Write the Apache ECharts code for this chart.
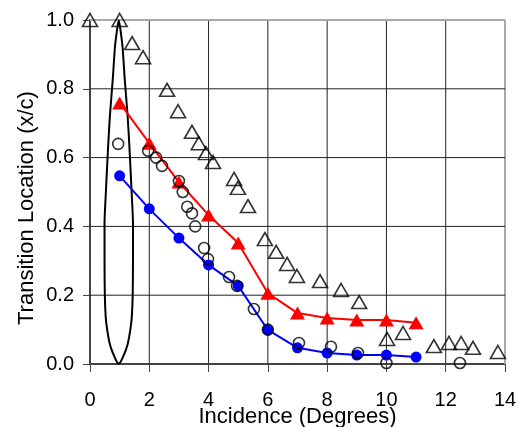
<!DOCTYPE html>
<html><head><meta charset="utf-8">
<script src="https://cdn.jsdelivr.net/npm/echarts@6/dist/echarts.min.js"></script>
<style>html,body{margin:0;padding:0;background:#fff}#c{width:520px;height:427px}</style>
</head><body><div id="c"></div>
<script>
const xTicks = [0, 2, 4, 6, 8, 10, 12, 14];
const yTicks = [0.0, 0.2, 0.4, 0.6, 0.8, 1.0];

// Closed outline shape around 1 degree
const shapeX = [0.97, 1.03, 1.11, 1.21, 1.28, 1.36, 1.41, 1.44, 1.45, 1.45, 1.41, 1.33, 1.27, 1.17, 1.10, 1.03, 0.97,
                0.91, 0.84, 0.77, 0.67, 0.61, 0.53, 0.49, 0.49, 0.50, 0.53, 0.58, 0.66, 0.73, 0.83, 0.91, 0.97];
const shapeY = [0.0, 0.006, 0.02, 0.041, 0.061, 0.099, 0.137, 0.2, 0.3, 0.41, 0.49, 0.63, 0.72, 0.83, 0.92, 0.97, 1.0,
                0.97, 0.92, 0.83, 0.72, 0.63, 0.49, 0.41, 0.3, 0.2, 0.137, 0.099, 0.061, 0.041, 0.02, 0.006, 0.0];

// Red filled triangles (line)
const redX = [1, 2, 3, 4, 5, 6, 7, 8, 9, 10, 11];
const redY = [0.759, 0.642, 0.529, 0.433, 0.352, 0.206, 0.148, 0.134, 0.128, 0.128, 0.12];

// Blue filled circles (line)
const blueX = [1, 2, 3, 4, 5, 6, 7, 8, 9, 10, 11];
const blueY = [0.547, 0.451, 0.366, 0.288, 0.227, 0.099, 0.047, 0.032, 0.026, 0.026, 0.02];

// Open circles
const circX = [0.95, 1.96, 2.23, 2.43, 3.0, 3.13, 3.28, 3.44, 3.55, 3.85, 3.98, 4.69, 4.96, 5.53, 6.0, 7.05, 8.13, 9.04, 10.0, 12.48];
const circY = [0.64, 0.62, 0.60, 0.576, 0.532, 0.50, 0.457, 0.438, 0.40, 0.337, 0.305, 0.253, 0.227, 0.16, 0.10, 0.061, 0.05, 0.032, 0.003, 0.003];

// Open triangles
const triX = [0, 1, 1.42, 1.79, 2.6, 2.97, 3.44, 3.67, 3.91, 4.15, 4.86, 4.99, 5.33, 5.9, 6.28, 6.65, 6.98, 7.76, 8.47, 9.08, 10.02, 10.56, 11.6, 12.11, 12.52, 12.92, 13.76];
const triY = [1.0, 1.0, 0.933, 0.892, 0.797, 0.735, 0.675, 0.642, 0.613, 0.587, 0.538, 0.512, 0.459, 0.363, 0.326, 0.291, 0.256, 0.241, 0.215, 0.18, 0.073, 0.09, 0.052, 0.061, 0.061, 0.047, 0.035];

const zip = (a, b) => a.map((v, i) => [v, b[i]]);
const FONT = '"Liberation Sans", Arial, sans-serif';

const xMin = xTicks[0], xMax = xTicks[xTicks.length - 1];
const yMin = yTicks[0], yMax = yTicks[yTicks.length - 1];

// grid lines drawn as series at the tick values, through the library's scales
const gridSeries = [];
xTicks.slice(1).forEach(v => gridSeries.push({
  type: 'line', data: [[v, yMin], [v, yMax]], symbol: 'none', silent: true, z: 1, clip: false,
  lineStyle: v === xMax ? { color: '#a8a8a8', width: 2 } : { color: '#222', width: 1 }
}));
yTicks.slice(1).forEach(v => gridSeries.push({
  type: 'line', data: [[xMin, v], [xMax, v]], symbol: 'none', silent: true, z: 1, clip: false,
  lineStyle: v === yMax ? { color: '#a8a8a8', width: 2 } : { color: '#222', width: 1 }
}));

const chart = echarts.init(document.getElementById('c'));
chart.setOption({
  animation: false,
  grid: { left: 90, right: 15, top: 20, bottom: 63, outerBoundsMode: 'none', containLabel: false },
  graphic: [{
    type: 'text',
    style: { text: 'Transition Location (x/c)', font: '22px "Liberation Sans", Arial, sans-serif', fill: '#000' },
    rotation: Math.PI / 2,
    x: 16, y: 325, z: 10
  }],
  xAxis: {
    type: 'value', min: xMin, max: xMax, interval: 2,
    name: 'Incidence (Degrees)', nameLocation: 'middle', nameGap: 42, nameMoveOverlap: false,
    nameTextStyle: { fontFamily: FONT, fontSize: 22, color: '#000' },
    axisLine: { show: true, onZero: false, lineStyle: { color: '#444', width: 2 } },
    axisTick: { show: true, length: 8, lineStyle: { color: '#444', width: 1 } },
    axisLabel: { fontFamily: FONT, fontSize: 20, color: '#000', margin: 26,
      formatter: v => xTicks.includes(v) ? String(v) : '' },
    splitLine: { show: false }
  },
  yAxis: {
    type: 'value', min: yMin, max: yMax, interval: 0.2,
    axisLine: { show: true, onZero: false, lineStyle: { color: '#444', width: 2 } },
    axisTick: { show: true, length: 7, lineStyle: { color: '#444', width: 1 } },
    axisLabel: { fontFamily: FONT, fontSize: 20, color: '#000', margin: 16,
      formatter: v => yTicks.some(t => Math.abs(t - v) < 1e-9) ? v.toFixed(1) : '' },
    splitLine: { show: false }
  },
  series: gridSeries.concat([
    { type: 'line', data: zip(shapeX, shapeY), symbol: 'none', smooth: 0.2,
      lineStyle: { color: '#000', width: 2 }, z: 2 },
    { type: 'line', data: zip(redX, redY), symbol: 'triangle', symbolSize: [15, 13],
      itemStyle: { color: '#ff0000' }, lineStyle: { color: '#ff0000', width: 2 }, z: 3 },
    { type: 'line', data: zip(blueX, blueY), symbol: 'circle', symbolSize: 11,
      itemStyle: { color: '#0000ff' }, lineStyle: { color: '#0000ff', width: 2 }, z: 3 },
    { type: 'scatter', data: zip(triX, triY), symbol: 'triangle', symbolSize: [15, 13],
      itemStyle: { color: 'rgba(0,0,0,0)', borderColor: '#000', borderWidth: 1.6 }, z: 4 },
    { type: 'scatter', data: zip(circX, circY), symbol: 'circle', symbolSize: 11,
      itemStyle: { color: 'rgba(0,0,0,0)', borderColor: '#000', borderWidth: 1.6 }, z: 5 }
  ])
});
</script></body></html>
